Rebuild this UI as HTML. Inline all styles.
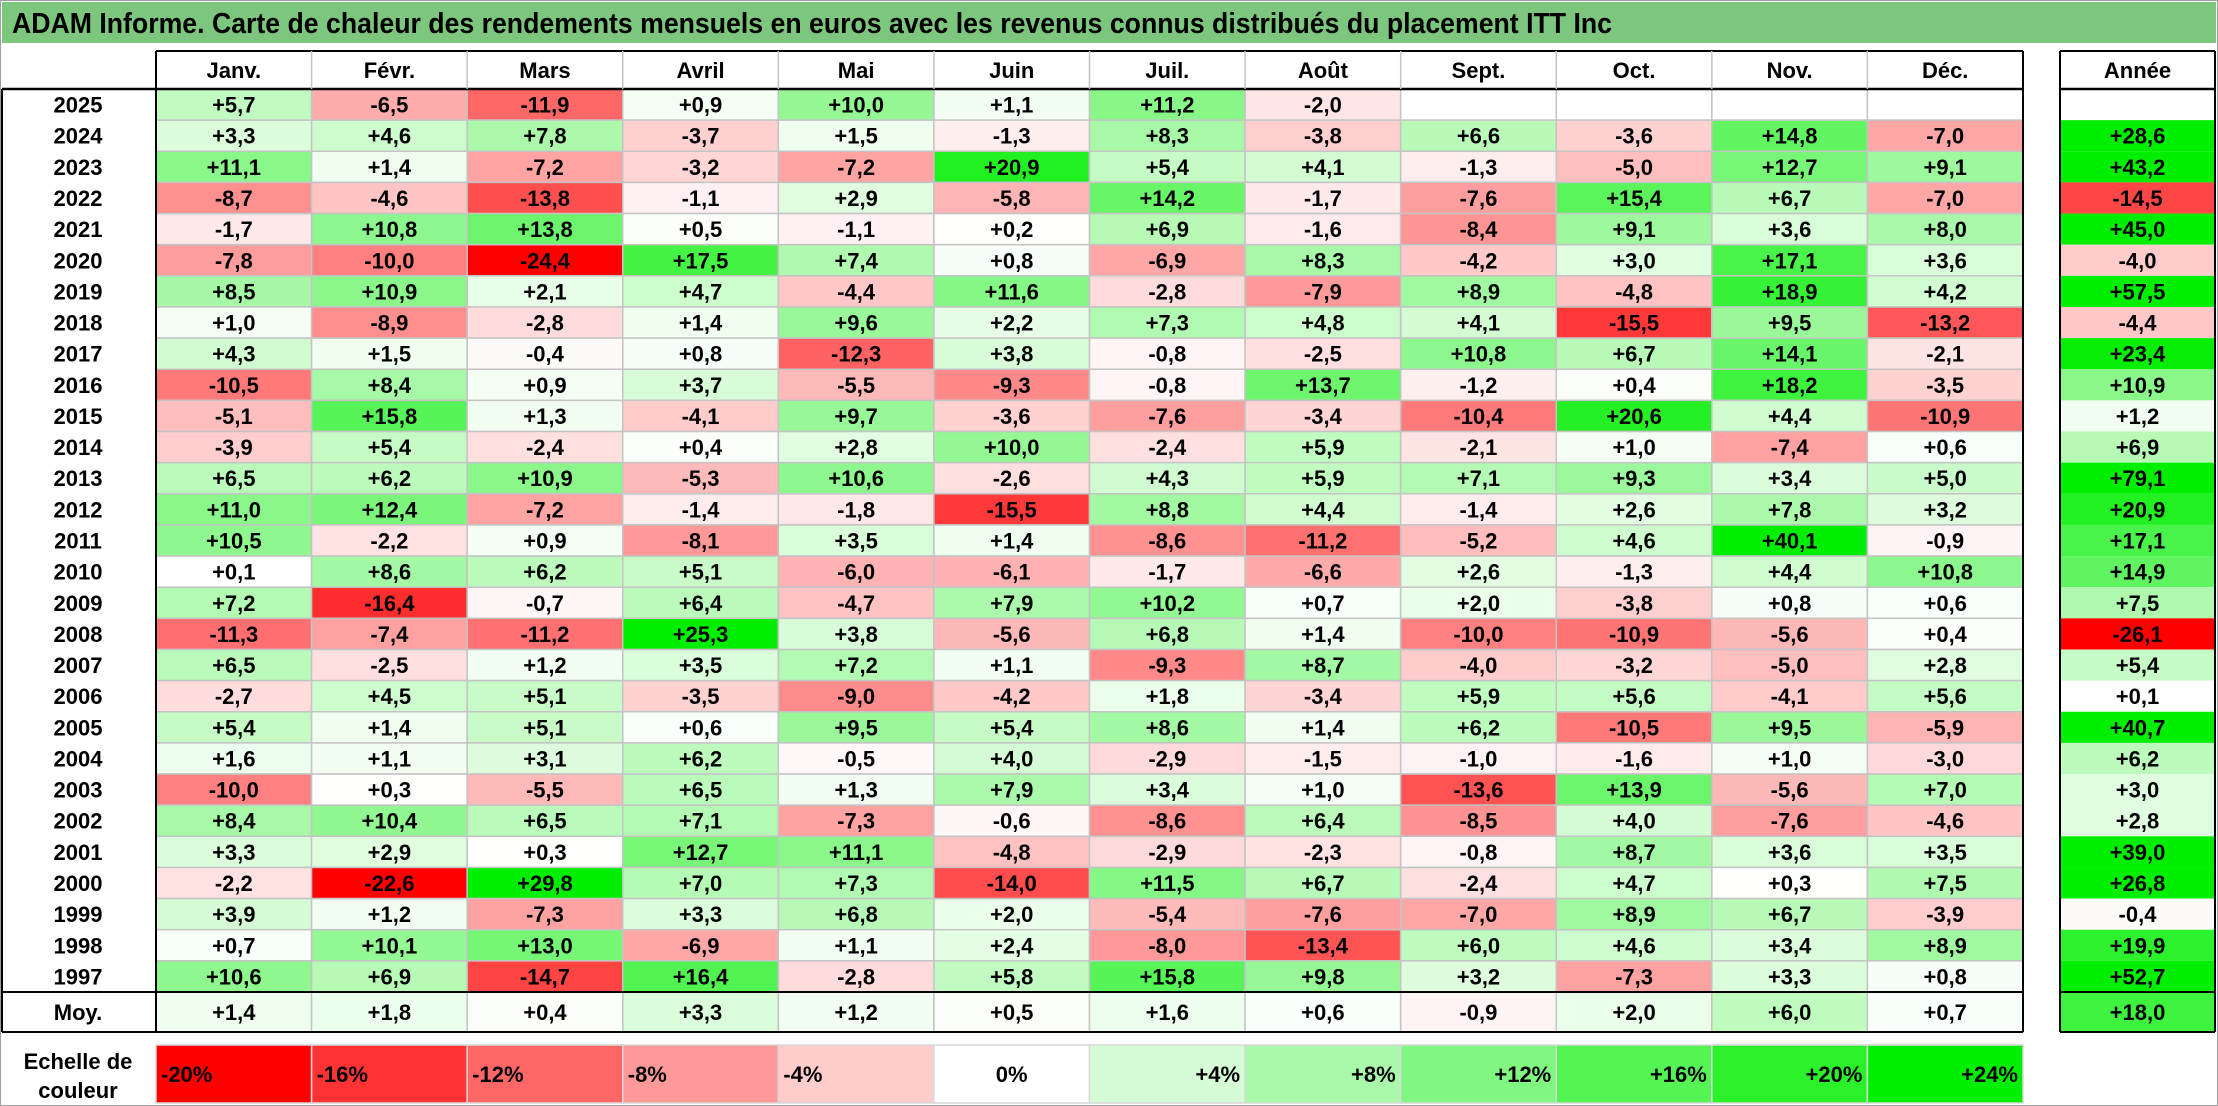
<!DOCTYPE html>
<html><head><meta charset="utf-8">
<style>
html,body{margin:0;padding:0;background:#fff;}
svg{display:block;font-family:"Liberation Sans",sans-serif;font-weight:bold;}
</style></head>
<body>
<svg id="chart" width="2218" height="1106" viewBox="0 0 2218 1106" xmlns="http://www.w3.org/2000/svg">
<rect x="0.5" y="0.5" width="2217" height="1105" fill="#fff" stroke="#a0a0a0"/>
<rect x="2" y="2" width="2214" height="41" fill="#7DC67D"/>
<text x="12" y="33" font-size="29" textLength="1600" lengthAdjust="spacingAndGlyphs">ADAM Informe. Carte de chaleur des rendements mensuels en euros avec les revenus connus distribués du placement ITT Inc</text>
<g id="cells"></g>
<g id="lines"></g>
</svg>
<script>
const months = ["Janv.","Févr.","Mars","Avril","Mai","Juin","Juil.","Août","Sept.","Oct.","Nov.","Déc."];
const years = ["2025","2024","2023","2022","2021","2020","2019","2018","2017","2016","2015","2014","2013","2012","2011","2010","2009","2008","2007","2006","2005","2004","2003","2002","2001","2000","1999","1998","1997"];
const values = [
[5.7,-6.5,-11.9,0.9,10.0,1.1,11.2,-2.0,null,null,null,null],
[3.3,4.6,7.8,-3.7,1.5,-1.3,8.3,-3.8,6.6,-3.6,14.8,-7.0],
[11.1,1.4,-7.2,-3.2,-7.2,20.9,5.4,4.1,-1.3,-5.0,12.7,9.1],
[-8.7,-4.6,-13.8,-1.1,2.9,-5.8,14.2,-1.7,-7.6,15.4,6.7,-7.0],
[-1.7,10.8,13.8,0.5,-1.1,0.2,6.9,-1.6,-8.4,9.1,3.6,8.0],
[-7.8,-10.0,-24.4,17.5,7.4,0.8,-6.9,8.3,-4.2,3.0,17.1,3.6],
[8.5,10.9,2.1,4.7,-4.4,11.6,-2.8,-7.9,8.9,-4.8,18.9,4.2],
[1.0,-8.9,-2.8,1.4,9.6,2.2,7.3,4.8,4.1,-15.5,9.5,-13.2],
[4.3,1.5,-0.4,0.8,-12.3,3.8,-0.8,-2.5,10.8,6.7,14.1,-2.1],
[-10.5,8.4,0.9,3.7,-5.5,-9.3,-0.8,13.7,-1.2,0.4,18.2,-3.5],
[-5.1,15.8,1.3,-4.1,9.7,-3.6,-7.6,-3.4,-10.4,20.6,4.4,-10.9],
[-3.9,5.4,-2.4,0.4,2.8,10.0,-2.4,5.9,-2.1,1.0,-7.4,0.6],
[6.5,6.2,10.9,-5.3,10.6,-2.6,4.3,5.9,7.1,9.3,3.4,5.0],
[11.0,12.4,-7.2,-1.4,-1.8,-15.5,8.8,4.4,-1.4,2.6,7.8,3.2],
[10.5,-2.2,0.9,-8.1,3.5,1.4,-8.6,-11.2,-5.2,4.6,40.1,-0.9],
[0.1,8.6,6.2,5.1,-6.0,-6.1,-1.7,-6.6,2.6,-1.3,4.4,10.8],
[7.2,-16.4,-0.7,6.4,-4.7,7.9,10.2,0.7,2.0,-3.8,0.8,0.6],
[-11.3,-7.4,-11.2,25.3,3.8,-5.6,6.8,1.4,-10.0,-10.9,-5.6,0.4],
[6.5,-2.5,1.2,3.5,7.2,1.1,-9.3,8.7,-4.0,-3.2,-5.0,2.8],
[-2.7,4.5,5.1,-3.5,-9.0,-4.2,1.8,-3.4,5.9,5.6,-4.1,5.6],
[5.4,1.4,5.1,0.6,9.5,5.4,8.6,1.4,6.2,-10.5,9.5,-5.9],
[1.6,1.1,3.1,6.2,-0.5,4.0,-2.9,-1.5,-1.0,-1.6,1.0,-3.0],
[-10.0,0.3,-5.5,6.5,1.3,7.9,3.4,1.0,-13.6,13.9,-5.6,7.0],
[8.4,10.4,6.5,7.1,-7.3,-0.6,-8.6,6.4,-8.5,4.0,-7.6,-4.6],
[3.3,2.9,0.3,12.7,11.1,-4.8,-2.9,-2.3,-0.8,8.7,3.6,3.5],
[-2.2,-22.6,29.8,7.0,7.3,-14.0,11.5,6.7,-2.4,4.7,0.3,7.5],
[3.9,1.2,-7.3,3.3,6.8,2.0,-5.4,-7.6,-7.0,8.9,6.7,-3.9],
[0.7,10.1,13.0,-6.9,1.1,2.4,-8.0,-13.4,6.0,4.6,3.4,8.9],
[10.6,6.9,-14.7,16.4,-2.8,5.8,15.8,9.8,3.2,-7.3,3.3,0.8]
];
const annual = [null,28.6,43.2,-14.5,45.0,-4.0,57.5,-4.4,23.4,10.9,1.2,6.9,79.1,20.9,17.1,14.9,7.5,-26.1,5.4,0.1,40.7,6.2,3.0,2.8,39.0,26.8,-0.4,19.9,52.7];
const averages = [1.4,1.8,0.4,3.3,1.2,0.5,1.6,0.6,-0.9,2.0,6.0,0.7];
const averageAnnual = 18.0;
const scaleSteps = [-20,-16,-12,-8,-4,0,4,8,12,16,20,24];

const NS="http://www.w3.org/2000/svg";
const cellsG=document.getElementById('cells'), linesG=document.getElementById('lines');
const X0=156, CW=(2023-156)/12, AX=2060, AW=155, HY=51, BY=89, RH=(992-89)/29, MY=992, MH=40, SY=1045, SH=58;
const FS=22, DY=8;
function colX(i){return X0+i*CW;}
function rowY(i){return BY+i*RH;}
function color(v){
  if(v===null) return '#ffffff';
  if(v<0){const t=Math.min(1,-v/20);const c=Math.round(255*(1-t));return `rgb(255,${c},${c})`;}
  const t=Math.min(1,v/24);const c=Math.round(255*(1-t));return `rgb(${c},${Math.round(255-17*t)},${c})`;
}
function fmt(v){if(v===null)return '';return (v>=0?'+':'')+v.toFixed(1).replace('.',',');}
function rect(x,y,w,h,fill,name,stroke){const r=document.createElementNS(NS,'rect');r.setAttribute('x',x);r.setAttribute('y',y);r.setAttribute('width',w);r.setAttribute('height',h);r.setAttribute('fill',fill);if(stroke){r.setAttribute('stroke',stroke);r.setAttribute('stroke-width','1.5');}


cellsG.appendChild(r);return r;}
function text(x,y,s,anchor,size,name){const t=document.createElementNS(NS,'text');t.setAttribute('x',x);t.setAttribute('y',y);t.setAttribute('text-anchor',anchor||'middle');t.setAttribute('font-size',size||FS);t.textContent=s;


cellsG.appendChild(t);return t;}
function line(x1,y1,x2,y2,col,w){const l=document.createElementNS(NS,'line');l.setAttribute('x1',x1);l.setAttribute('y1',y1);l.setAttribute('x2',x2);l.setAttribute('y2',y2);l.setAttribute('stroke',col);l.setAttribute('stroke-width',w);


linesG.appendChild(l);}

months.forEach((m,i)=>text(colX(i)+CW/2,HY+27,m,'middle',FS,'month-header'));
text(AX+AW/2,HY+27,'Année','middle',FS,'annual-header');
years.forEach((y,r)=>{
  const yy=rowY(r);
  text(78,yy+RH/2+DY,y,'middle',FS,'year-label');
  values[r].forEach((v,c)=>{
    rect(colX(c),yy,CW,RH,color(v),'heatmap-cell','#c4c4c4');
    text(colX(c)+CW/2,yy+RH/2+DY,fmt(v),'middle',FS,'cell-value');
  });
  rect(AX,yy,AW,RH,color(annual[r]),'annual-cell');
  text(AX+AW/2,yy+RH/2+DY,fmt(annual[r]),'middle',FS,'annual-value');
});
text(78,MY+MH/2+DY,'Moy.','middle',FS,'average-label');
averages.forEach((v,c)=>{
  rect(colX(c),MY,CW,MH,color(v),'average-cell','#c4c4c4');
  text(colX(c)+CW/2,MY+MH/2+DY,fmt(v),'middle',FS,'average-value');
});
rect(AX,MY,AW,MH,color(averageAnnual),'annual-average-cell');
text(AX+AW/2,MY+MH/2+DY,fmt(averageAnnual),'middle',FS,'annual-average-value');
text(78,SY+24,'Echelle de','middle',FS,'scale-label');
text(78,SY+53,'couleur','middle',FS,'scale-label');
scaleSteps.forEach((s,c)=>{
  rect(colX(c),SY,CW,SH,color(s),'scale-cell','#d8d8d8');
  const lbl=(s>0?'+':'')+s+'%';
  if(s<0) text(colX(c)+5,SY+SH/2+DY,lbl,'start',FS,'scale-value');
  else if(s===0) text(colX(c)+CW/2,SY+SH/2+DY,lbl,'middle',FS,'scale-value');
  else text(colX(c)+CW-5,SY+SH/2+DY,lbl,'end',FS,'scale-value');
});
line(X0,HY,2023,HY,'#000',2);
line(X0,HY,X0,BY,'#000',2);
line(2023,HY,2023,MY+MH,'#000',2);
line(2,BY,2023,BY,'#000',2.5);
line(X0,BY,X0,MY+MH,'#000',2);
line(2,BY,2,MY+MH,'#000',2);
line(2,MY,2023,MY,'#000',2);
line(2,MY+MH,2023,MY+MH,'#000',2);
line(AX,HY,AX+AW,HY,'#000',2);
line(AX,HY,AX,MY+MH,'#000',2);
line(AX+AW,HY,AX+AW,MY+MH,'#000',2);
line(AX,BY,AX+AW,BY,'#000',2.5);
line(AX,MY,AX+AW,MY,'#000',2);
line(AX,MY+MH,AX+AW,MY+MH,'#000',2);
for(let i=1;i<12;i++) line(colX(i),HY,colX(i),BY,'#c4c4c4',1.5);
</script>
</body></html>
